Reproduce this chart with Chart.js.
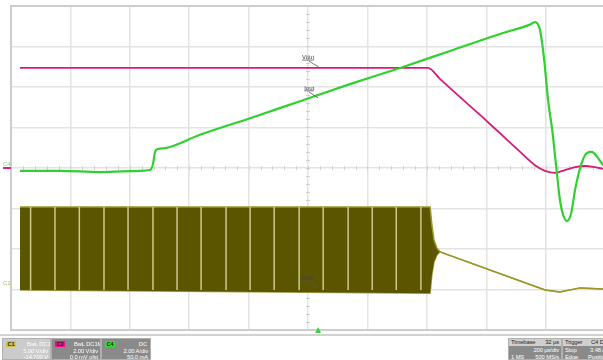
<!DOCTYPE html>
<html>
<head>
<meta charset="utf-8">
<script src="https://cdn.jsdelivr.net/npm/chart.js@4.4.1/dist/chart.umd.min.js"></script>
<style>
body { margin: 0; background: #fff; font-family: "Liberation Sans", Arial, sans-serif; }
#wrap { position: relative; width: 603px; height: 360px; overflow: hidden; }
#plot { position: absolute; left: 0; top: 0; }
#bar { position: absolute; left: 0; top: 334px; width: 603px; height: 26px; border-top: 2px solid #d2d2d2; }
.box { position: absolute; top: 2px; height: 22px; font-size: 5.8px; line-height: 6px; letter-spacing: -0.1px; color: #fff; background: #8a8a8a; border: 1px solid #b0b0b0; box-sizing: border-box; overflow: hidden; }
.box span { position: absolute; white-space: nowrap; }
.tag { left: 3px; top: 2px; width: 10px; height: 6px; font-weight: bold; font-size: 5.5px; line-height: 6px; text-align: center; color: #222; }
.head { left: 0; top: 0; right: 0; height: 7px; background: #cfcfcf; color: #333; }
</style>
</head>
<body>
<div id="wrap">
  <canvas id="plot" width="603" height="336"></canvas>
  <div id="bar">
    <div class="box" style="left:2px;width:49px;background:#cbcbcb;">
      <span class="tag" style="background:#cfc445;">C1</span>
      <span style="left:24px;top:2px;">BwL DC1M</span>
      <span style="right:2px;top:9px;">5.00 V/div</span>
      <span style="right:2px;top:15px;">-14.700 V</span>
    </div>
    <div class="box" style="left:51px;width:50px;">
      <span class="tag" style="background:#e8128c;">C2</span>
      <span style="left:22px;top:2px;">BwL DC1M</span>
      <span style="right:2px;top:9px;">2.00 V/div</span>
      <span style="right:2px;top:15px;">0.0 mV ofst</span>
    </div>
    <div class="box" style="left:101px;width:50px;">
      <span class="tag" style="background:#33e033;">C4</span>
      <span style="right:3px;top:2px;">DC</span>
      <span style="right:2px;top:9px;">2.00 A/div</span>
      <span style="right:2px;top:15px;">50.0 mA</span>
    </div>
    <div class="box" style="left:508px;width:54px;">
      <span class="head"></span>
      <span style="left:2px;top:0;color:#222;">Timebase</span>
      <span style="right:2px;top:0;color:#222;">32 µs</span>
      <span style="right:2px;top:8px;">200 µs/div</span>
      <span style="left:2px;top:15px;">1 MS</span>
      <span style="right:2px;top:15px;">500 MS/s</span>
    </div>
    <div class="box" style="left:562px;width:44px;">
      <span class="head"></span>
      <span style="left:2px;top:0;color:#222;">Trigger</span>
      <span style="left:28px;top:0;color:#222;">C4 DC</span>
      <span style="left:2px;top:8px;">Stop</span>
      <span style="left:27px;top:8px;">3.48 A</span>
      <span style="left:2px;top:15px;">Edge</span>
      <span style="left:25px;top:15px;">Positive</span>
    </div>
  </div>
</div>
<script>
// 时间轴: µs, 200 µs/div；纵轴: 屏幕格 (div)，中心为 0
const timeTicks = [0, 200, 400, 600, 800, 1000, 1200, 1400, 1600, 1800];
const divTicks = [-4, -3, -2, -1, 0, 1, 2, 3, 4];

// C4 Iout (绿色)
const ioutTime = [30, 165, 300, 434, 468, 478, 485, 495, 519, 636, 805, 973, 1141, 1310, 1478, 1646, 1747, 1764, 1781, 1795, 1808, 1822, 1835, 1848, 1859, 1872, 1886, 1899, 1916, 1933, 1950, 1963, 1976, 1993];
const ioutDiv  = [-0.07, -0.07, -0.1, -0.07, -0.05, 0.1, 0.4, 0.47, 0.49, 0.82, 1.23, 1.65, 2.07, 2.47, 2.89, 3.31, 3.54, 3.6, 3.41, 2.67, 1.68, 0.94, 0.07, -0.79, -1.16, -1.31, -1.11, -0.54, 0, 0.32, 0.4, 0.37, 0.25, 0.07];

// C2 Vout (品红)
const voutTime = [30, 700, 1404, 1444, 1512, 1579, 1646, 1714, 1764, 1798, 1832, 1865, 1899, 1933, 1966, 1993];
const voutDiv  = [2.47, 2.47, 2.47, 2.2, 1.75, 1.31, 0.86, 0.4, 0.07, -0.07, -0.12, -0.05, 0.02, 0.05, 0.02, -0.02];

// C1 VSW (橄榄色) 开关波形包络
const vswTime      = [30, 1411, 1417, 1424, 1434, 1444, 1798, 1848, 1916, 1993];
const vswTopDiv    = [-0.96, -0.96, -1.41, -1.78, -1.98, -2.07, -3.01, -3.06, -2.96, -2.99];
const vswBottomDiv = [-3.01, -3.09, -2.64, -2.32, -2.15, -2.07, -3.01, -3.06, -2.96, -2.99];
// 包络内的浅色竖线位置
const vswStripeTime = [66, 148, 230, 313, 394, 478, 559, 640, 724, 805, 886, 970, 1051, 1135, 1216, 1297, 1380];

const xy = (ts, ys) => ts.map((t, i) => ({ x: t, y: ys[i] }));

const stripePoints = [];
vswStripeTime.forEach(t => {
    stripePoints.push({ x: t, y: vswTopDiv[0] }, { x: t, y: vswBottomDiv[0] }, { x: t, y: null });
});

// 画框、中心刻度、通道标记和标注
const scopeDecor = {
    id: 'scopeDecor',
    beforeDatasetsDraw(chart) {
        const { ctx, chartArea: a, scales: { x, y } } = chart;
        ctx.save();
        ctx.strokeStyle = '#cfcfcf';
        ctx.lineWidth = 1;
        const cy = y.getPixelForValue(0);
        const cx = x.getPixelForValue(1000);
        for (let t = 40; t < 1993; t += 40) {
            const px = Math.round(x.getPixelForValue(t)) + 0.5;
            ctx.beginPath(); ctx.moveTo(px, cy - 2); ctx.lineTo(px, cy + 2); ctx.stroke();
        }
        for (let d = -3.8; d < 4; d += 0.2) {
            const py = Math.round(y.getPixelForValue(d)) + 0.5;
            ctx.beginPath(); ctx.moveTo(cx - 2, py); ctx.lineTo(cx + 2, py); ctx.stroke();
        }
        ctx.strokeStyle = '#cdcdcd';
        ctx.lineWidth = 2;
        ctx.beginPath();
        ctx.moveTo(a.right + 2, a.top); ctx.lineTo(a.left, a.top);
        ctx.lineTo(a.left, a.bottom); ctx.lineTo(a.right + 2, a.bottom);
        ctx.stroke();
        ctx.restore();
    },
    afterDatasetsDraw(chart) {
        const { ctx, scales: { x, y }, chartArea: a } = chart;
        ctx.save();
        ctx.font = '6px "Liberation Sans", Arial, sans-serif';
        ctx.textBaseline = 'alphabetic';
        const notes = [
            { text: 'Vout', t: 980, d: 2.69, l: [1003, 2.64, 1037, 2.49] },
            { text: 'Iout', t: 987, d: 1.93, l: [1003, 1.88, 1034, 1.73] },
            { text: 'VSW', t: 973, d: -2.77, l: [1000, -2.81, 1034, -2.96] }
        ];
        notes.forEach(n => {
            const px = x.getPixelForValue(n.t), py = y.getPixelForValue(n.d);
            ctx.fillStyle = '#444';
            ctx.fillText(n.text, px, py);
            const w = ctx.measureText(n.text).width;
            ctx.strokeStyle = '#555';
            ctx.lineWidth = 0.8;
            ctx.beginPath(); ctx.moveTo(px, py + 1); ctx.lineTo(px + w, py + 1); ctx.stroke();
            ctx.beginPath();
            ctx.moveTo(x.getPixelForValue(n.l[0]), y.getPixelForValue(n.l[1]));
            ctx.lineTo(x.getPixelForValue(n.l[2]), y.getPixelForValue(n.l[3]));
            ctx.stroke();
        });
        // 通道零点标记
        const c0 = y.getPixelForValue(0);
        ctx.fillStyle = '#7fd07f';
        ctx.fillText('C4', 3, c0 - 2);
        ctx.fillStyle = '#e0208a';
        ctx.fillRect(3, c0 - 1, 8, 2);
        const c1 = y.getPixelForValue(-2.9);
        ctx.fillStyle = '#bdb54a';
        ctx.fillText('C1', 3, c1);
        // 触发位置三角
        const tx = x.getPixelForValue(1034);
        ctx.fillStyle = '#3ad23a';
        ctx.beginPath();
        ctx.moveTo(tx, a.bottom - 3); ctx.lineTo(tx - 3, a.bottom + 3); ctx.lineTo(tx + 3, a.bottom + 3);
        ctx.closePath(); ctx.fill();
        ctx.restore();
    }
};

new Chart(document.getElementById('plot'), {
    type: 'scatter',
    data: {
        datasets: [
            {
                label: 'Iout',
                data: xy(ioutTime, ioutDiv),
                showLine: true,
                borderColor: '#2fd02f',
                borderWidth: 2.2,
                pointRadius: 0,
                cubicInterpolationMode: 'monotone',
                fill: false
            },
            {
                label: 'Vout',
                data: xy(voutTime, voutDiv),
                showLine: true,
                borderColor: '#d81a78',
                borderWidth: 1.8,
                pointRadius: 0,
                cubicInterpolationMode: 'monotone',
                fill: false
            },
            {
                label: 'VSW stripes',
                data: stripePoints,
                showLine: true,
                spanGaps: false,
                borderColor: '#cdc792',
                borderWidth: 1.5,
                pointRadius: 0,
                fill: false
            },
            {
                label: 'VSW top',
                data: xy(vswTime, vswTopDiv),
                showLine: true,
                borderColor: '#9d9728',
                borderWidth: 1.5,
                pointRadius: 0,
                fill: '+1',
                backgroundColor: '#5b5500'
            },
            {
                label: 'VSW bottom',
                data: xy(vswTime, vswBottomDiv),
                showLine: true,
                borderColor: '#aaa450',
                borderWidth: 1.5,
                pointRadius: 0,
                fill: false
            }
        ]
    },
    options: {
        responsive: false,
        animation: false,
        layout: { padding: { left: 11, top: 6, right: 0, bottom: 6 } },
        scales: {
            x: {
                type: 'linear',
                min: 0,
                max: 1993,
                afterBuildTicks: s => { s.ticks = timeTicks.map(v => ({ value: v })); },
                ticks: { display: false },
                grid: { color: '#e3e3e3', lineWidth: 1.5, drawTicks: false },
                border: { display: false }
            },
            y: {
                type: 'linear',
                min: -4,
                max: 4,
                afterBuildTicks: s => { s.ticks = divTicks.map(v => ({ value: v })); },
                ticks: { display: false },
                grid: { color: '#e3e3e3', lineWidth: 1.5, drawTicks: false },
                border: { display: false }
            }
        },
        plugins: {
            legend: { display: false },
            tooltip: { enabled: false }
        }
    },
    plugins: [scopeDecor]
});
</script>
</body>
</html>
